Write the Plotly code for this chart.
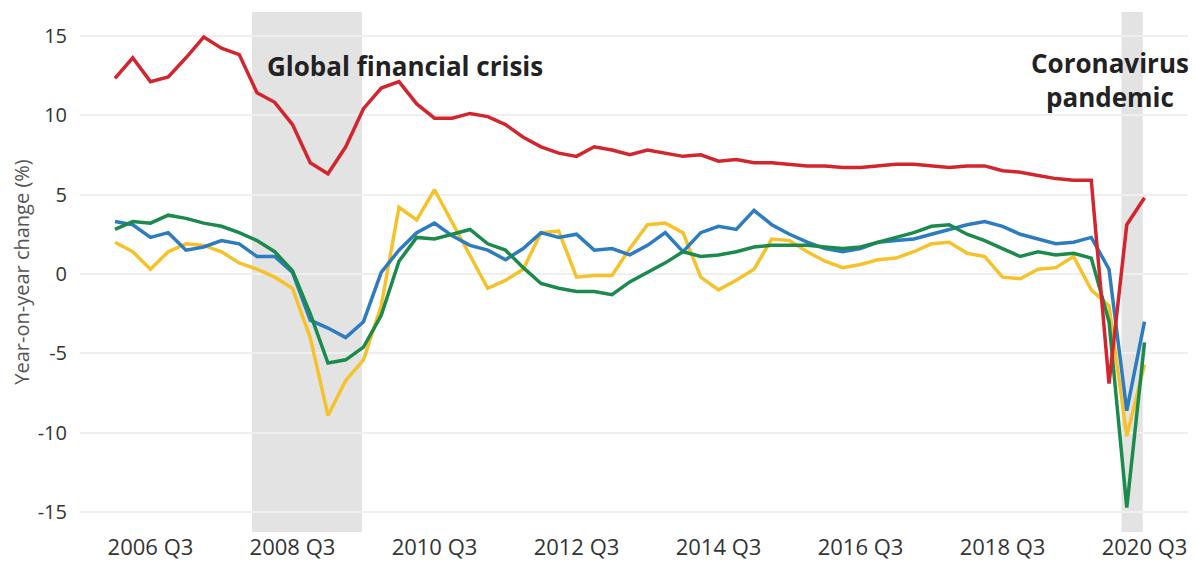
import plotly.graph_objects as go

# Quarters 2006 Q1 .. 2020 Q3
quarters = [f"{y} Q{q}" for y in range(2006, 2021) for q in range(1, 5)][:59]

red = [12.3, 13.6, 12.1, 12.4, 13.6, 14.9, 14.2, 13.8,
       11.4, 10.8, 9.4, 7.0, 6.3, 8.0, 10.4, 11.7,
       12.1, 10.7, 9.8, 9.8, 10.1, 9.9, 9.4, 8.6,
       8.0, 7.6, 7.4, 8.0, 7.8, 7.5, 7.8, 7.6,
       7.4, 7.5, 7.1, 7.2, 7.0, 7.0, 6.9, 6.8,
       6.8, 6.7, 6.7, 6.8, 6.9, 6.9, 6.8, 6.7,
       6.8, 6.8, 6.5, 6.4, 6.2, 6.0, 5.9, 5.9,
       -6.9, 3.1, 4.8]

yellow = [2.0, 1.4, 0.3, 1.4, 1.9, 1.8, 1.4, 0.7,
          0.3, -0.2, -0.9, -4.0, -8.9, -6.7, -5.4, -2.0,
          4.2, 3.4, 5.3, 3.2, 1.1, -0.9, -0.4, 0.3,
          2.6, 2.7, -0.2, -0.1, -0.1, 1.6, 3.1, 3.2,
          2.6, -0.2, -1.0, -0.4, 0.3, 2.2, 2.1, 1.4,
          0.8, 0.4, 0.6, 0.9, 1.0, 1.4, 1.9, 2.0,
          1.3, 1.1, -0.2, -0.3, 0.3, 0.4, 1.1, -1.0,
          -2.0, -10.2, -5.7]

blue = [3.3, 3.1, 2.3, 2.6, 1.5, 1.7, 2.1, 1.9,
        1.1, 1.1, 0.1, -2.9, -3.4, -4.0, -3.0, 0.1,
        1.5, 2.6, 3.2, 2.4, 1.8, 1.5, 0.9, 1.6,
        2.6, 2.3, 2.5, 1.5, 1.6, 1.2, 1.8, 2.6,
        1.4, 2.6, 3.0, 2.8, 4.0, 3.1, 2.5, 2.0,
        1.6, 1.4, 1.6, 2.0, 2.1, 2.2, 2.5, 2.8,
        3.1, 3.3, 3.0, 2.5, 2.2, 1.9, 2.0, 2.3,
        0.3, -8.6, -3.0]

green = [2.8, 3.3, 3.2, 3.7, 3.5, 3.2, 3.0, 2.6,
         2.1, 1.4, 0.2, -2.5, -5.6, -5.4, -4.6, -2.6,
         0.8, 2.3, 2.2, 2.5, 2.8, 1.9, 1.5, 0.4,
         -0.6, -0.9, -1.1, -1.1, -1.3, -0.5, 0.1, 0.7,
         1.4, 1.1, 1.2, 1.4, 1.7, 1.8, 1.8, 1.8,
         1.7, 1.6, 1.7, 2.0, 2.3, 2.6, 3.0, 3.1,
         2.5, 2.1, 1.6, 1.1, 1.4, 1.2, 1.3, 1.0,
         -3.0, -14.7, -4.3]

tick_quarters = ["2006 Q3", "2008 Q3", "2010 Q3", "2012 Q3",
                 "2014 Q3", "2016 Q3", "2018 Q3", "2020 Q3"]
y_ticks = [-15, -10, -5, 0, 5, 10, 15]
y_tick_text = ["-15", "-10", "-5", "0", "5", "10", "15"]

series = [
    (yellow, "#F6C22B"),
    (blue, "#2E7CC0"),
    (green, "#1C8A4C"),
    (red, "#D2262E"),
]

FONT = "Open Sans"

fig = go.Figure()
for vals, col in series:
    fig.add_trace(go.Scatter(x=quarters, y=vals, mode="lines",
                             line=dict(color=col, width=3.5),
                             showlegend=False, hoverinfo="skip"))

band = "#E3E3E3"
fig.add_shape(type="rect", xref="x", yref="paper", x0=7.72, x1=13.92, y0=0, y1=1,
              fillcolor=band, line_width=0, layer="below")
fig.add_shape(type="rect", xref="x", yref="paper", x0=56.7, x1=57.9, y0=0, y1=1,
              fillcolor=band, line_width=0, layer="below")

fig.add_annotation(x=8.45, y=13.1, xref="x", yref="y", xanchor="left", yanchor="middle",
                   text="<b>Global financial crisis</b>", showarrow=False,
                   font=dict(family=FONT, size=26, color="#222222"))
fig.add_annotation(x=56.06, y=12.2, xref="x", yref="y", xanchor="center", yanchor="middle",
                   text="<b>Coronavirus<br>pandemic</b>", showarrow=False,
                   font=dict(family=FONT, size=26, color="#222222"))

# page body has an 8px default margin, so the figure is sized to fit the window
fig.update_layout(
    width=1188, height=564,
    margin=dict(l=72, r=0, t=4, b=40),
    paper_bgcolor="white", plot_bgcolor="white",
    font=dict(family=FONT, size=20, color="#333333"),
    xaxis=dict(type="category", range=[-1.97, 60.9], tickmode="array",
               tickvals=tick_quarters, ticktext=tick_quarters,
               showgrid=False, showline=False, zeroline=False, ticks="",
               automargin=False,
               tickfont=dict(family=FONT, size=22, color="#333333")),
    yaxis=dict(range=[-16.23, 16.48], tickmode="array",
               tickvals=y_ticks, ticktext=y_tick_text,
               showgrid=True, gridcolor="#EFEFEF", gridwidth=1.5,
               zeroline=False, showline=False, ticks="",
               automargin=False, ticklabelstandoff=12,
               tickfont=dict(family=FONT, size=20, color="#333333"),
               title=dict(text="Year-on-year change (%)", standoff=2,
                          font=dict(family=FONT, size=20, color="#555555"))),
)

fig.write_html("out.html")
